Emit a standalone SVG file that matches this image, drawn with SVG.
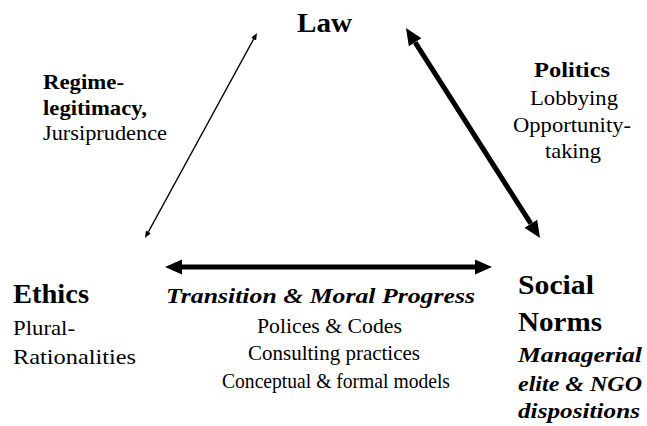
<svg xmlns="http://www.w3.org/2000/svg" width="647" height="426" viewBox="0 0 647 426">
  <defs>
    <marker id="headBig" markerUnits="userSpaceOnUse" markerWidth="18" markerHeight="16" refX="0" refY="7.5" orient="auto-start-reverse" viewBox="0 0 18 15">
      <path d="M0,0 L17,7.5 L0,15 Z" fill="#000"/>
    </marker>
    <marker id="headSmall" markerUnits="userSpaceOnUse" markerWidth="8" markerHeight="6" refX="0" refY="2.75" orient="auto-start-reverse" viewBox="0 0 8 5.5">
      <path d="M0,0 L7,2.75 L0,5.5 Z" fill="#000"/>
    </marker>
  </defs>
  <rect width="647" height="426" fill="#fff"/>

  <g id="connectors" stroke="#000" fill="none">
    <line id="law-ethics" stroke-width="1.3" x1="253.64" y1="39.14" x2="148.36" y2="231.86" marker-start="url(#headSmall)" marker-end="url(#headSmall)"/>
    <line id="law-social" stroke-width="5" x1="415.15" y1="42.33" x2="530.85" y2="223.67" marker-start="url(#headBig)" marker-end="url(#headBig)"/>
    <line id="ethics-social" stroke-width="5" x1="182" y1="267" x2="475" y2="267" marker-start="url(#headBig)" marker-end="url(#headBig)"/>
  </g>

  <g font-family="Liberation Serif" fill="#000" lengthAdjust="spacingAndGlyphs">
    <g id="law" font-size="27" font-weight="bold">
      <text x="297" y="32" textLength="55" lengthAdjust="spacingAndGlyphs">Law</text>
    </g>

    <g id="ethics">
      <text x="13" y="303" font-size="27" font-weight="bold" textLength="76" lengthAdjust="spacingAndGlyphs">Ethics</text>
      <text x="13" y="335" font-size="22" textLength="62" lengthAdjust="spacingAndGlyphs">Plural-</text>
      <text x="13" y="364" font-size="22" textLength="123" lengthAdjust="spacingAndGlyphs">Rationalities</text>
    </g>

    <g id="social-norms" font-weight="bold">
      <text x="518" y="294" font-size="27" textLength="76" lengthAdjust="spacingAndGlyphs">Social</text>
      <text x="518" y="331" font-size="27" textLength="84" lengthAdjust="spacingAndGlyphs">Norms</text>
      <g font-size="22" font-style="italic">
        <text x="518" y="362" textLength="124" lengthAdjust="spacingAndGlyphs">Managerial</text>
        <text x="518" y="391" textLength="124" lengthAdjust="spacingAndGlyphs">elite &amp; NGO</text>
        <text x="518" y="418" textLength="122" lengthAdjust="spacingAndGlyphs">dispositions</text>
      </g>
    </g>

    <g id="label-law-ethics" font-size="22">
      <text x="43" y="89" font-weight="bold" textLength="81" lengthAdjust="spacingAndGlyphs">Regime-</text>
      <text x="43" y="115" font-weight="bold" textLength="104" lengthAdjust="spacingAndGlyphs">legitimacy,</text>
      <text x="43" y="140" textLength="124" lengthAdjust="spacingAndGlyphs">Jursiprudence</text>
    </g>

    <g id="label-law-social" font-size="22">
      <text x="534" y="77" font-weight="bold" textLength="76" lengthAdjust="spacingAndGlyphs">Politics</text>
      <text x="530" y="105" textLength="88" lengthAdjust="spacingAndGlyphs">Lobbying</text>
      <text x="513" y="132" textLength="118" lengthAdjust="spacingAndGlyphs">Opportunity-</text>
      <text x="545" y="158" textLength="56" lengthAdjust="spacingAndGlyphs">taking</text>
    </g>

    <g id="label-ethics-social" font-size="22">
      <text x="166" y="303" font-weight="bold" font-style="italic" textLength="309" lengthAdjust="spacingAndGlyphs">Transition &amp; Moral Progress</text>
      <text x="257" y="333" textLength="145" lengthAdjust="spacingAndGlyphs">Polices &amp; Codes</text>
      <text x="248" y="360" textLength="172" lengthAdjust="spacingAndGlyphs">Consulting practices</text>
      <text x="222" y="388" textLength="228" lengthAdjust="spacingAndGlyphs">Conceptual &amp; formal models</text>
    </g>
  </g>
</svg>
